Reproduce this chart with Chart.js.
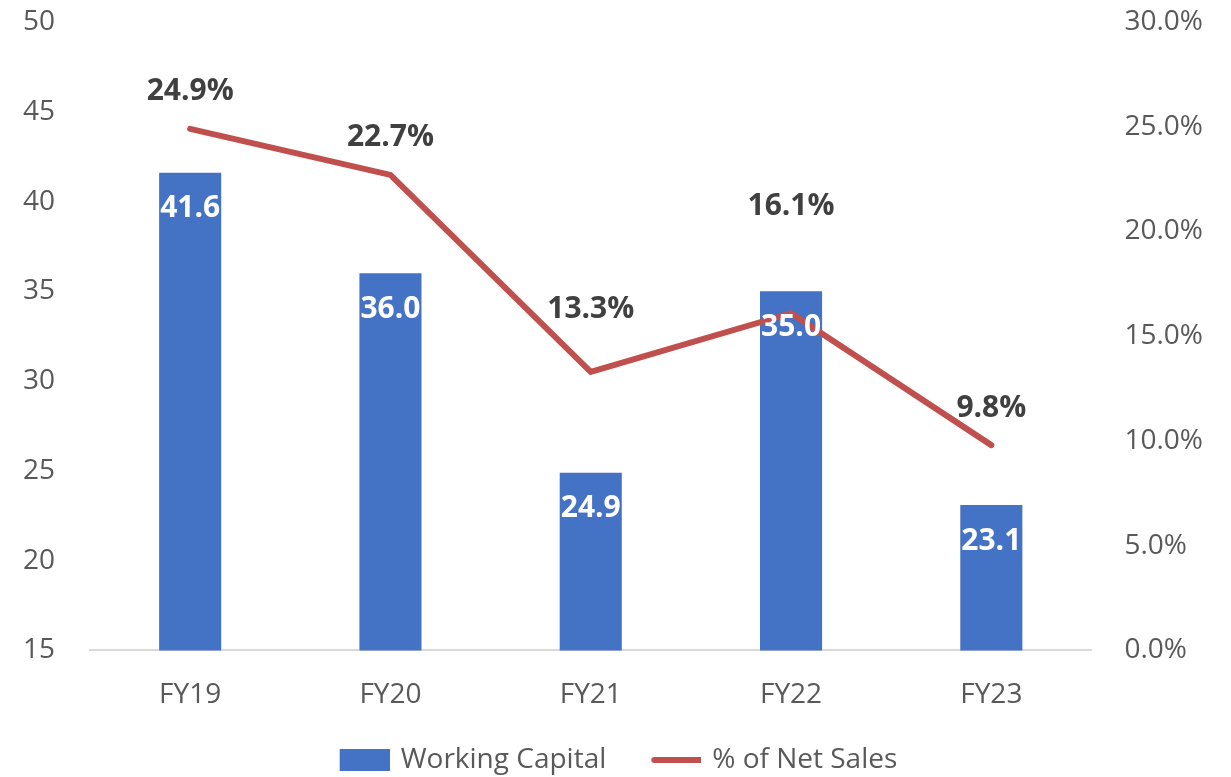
<!DOCTYPE html>
<html>
<head>
<meta charset="utf-8">
<script src="https://cdn.jsdelivr.net/npm/chart.js@4/dist/chart.umd.min.js"></script>
<style>
  html, body { margin: 0; padding: 0; background: #fff; }
  #wrap { width: 1231px; height: 777px; }
</style>
</head>
<body>
<div id="wrap"><canvas id="wcChart" width="1231" height="777"></canvas></div>
<script>
const years = ['FY19', 'FY20', 'FY21', 'FY22', 'FY23'];
const workingCapital = [41.6, 36.0, 24.9, 35.0, 23.1];
const pctOfNetSales = [24.9, 22.7, 13.3, 16.1, 9.8];
const leftTicks = [15, 50, 5];     // min, max, step
const rightTicks = [0, 30, 5];

const BAR_COLOR = '#4472C4';
const LINE_COLOR = '#C0504D';
const TEXT_COLOR = '#595959';
const LABEL_COLOR = '#404040';
const FONT = "'Open Sans', 'Noto Sans', sans-serif";

// the % labels sit higher on FY21 / FY22 in the original
const pctLabelLift = [37, 37, 62, 107, 37];

// legend swatches (64px wide, mark drawn on the right part)
function makeSwatch(draw) {
    const c = document.createElement('canvas');
    c.width = 64;
    c.height = 24;
    draw(c.getContext('2d'));
    return c;
}
const barSwatch = makeSwatch(ctx => {
    ctx.fillStyle = BAR_COLOR;
    ctx.fillRect(14, 1, 50, 22);
});
const lineSwatch = makeSwatch(ctx => {
    ctx.strokeStyle = LINE_COLOR;
    ctx.lineWidth = 6;
    ctx.lineCap = 'round';
    ctx.beginPath();
    ctx.moveTo(17, 12);
    ctx.lineTo(66, 12);
    ctx.stroke();
});

// Chart.js counts tick padding twice and also pads above/below the value axes
function trimValueAxis(scale) {
    scale.width -= scale.options.ticks.padding;
    scale.paddingTop = 22;
    scale.paddingBottom = 22;
}

const valueLabels = {
    id: 'valueLabels',
    afterDatasetsDraw(chart) {
        const ctx = chart.ctx;
        ctx.save();
        ctx.font = `bold 30px ${FONT}`;
        ctx.textAlign = 'center';
        ctx.textBaseline = 'middle';

        chart.getDatasetMeta(0).data.forEach((bar, i) => {
            ctx.fillStyle = '#ffffff';
            ctx.fillText(workingCapital[i].toFixed(1), bar.x, bar.y + 36);
        });

        chart.getDatasetMeta(1).data.forEach((pt, i) => {
            ctx.fillStyle = LABEL_COLOR;
            ctx.fillText(pctOfNetSales[i].toFixed(1) + '%', pt.x, pt.y - pctLabelLift[i]);
        });
        ctx.restore();
    }
};

const ctx = document.getElementById('wcChart').getContext('2d');
new Chart(ctx, {
    data: {
        labels: years,
        datasets: [
            {
                type: 'bar',
                label: 'Working Capital',
                data: workingCapital,
                backgroundColor: BAR_COLOR,
                yAxisID: 'y',
                categoryPercentage: 1.0,
                barPercentage: 0.31,
                order: 1
            },
            {
                type: 'line',
                label: '% of Net Sales',
                data: pctOfNetSales,
                borderColor: LINE_COLOR,
                backgroundColor: LINE_COLOR,
                borderWidth: 6,
                borderCapStyle: 'round',
                pointRadius: 0,
                tension: 0,
                yAxisID: 'y1',
                order: 0
            }
        ]
    },
    options: {
        responsive: false,
        animation: false,
        layout: { padding: { left: 23, right: 28, top: 0, bottom: -7 } },
        plugins: {
            tooltip: { enabled: false },
            legend: {
                position: 'bottom',
                labels: {
                    usePointStyle: true,
                    pointStyleWidth: 58,
                    padding: 34,
                    color: TEXT_COLOR,
                    font: { family: FONT, size: 28 },
                    generateLabels(chart) {
                        const items = Chart.defaults.plugins.legend.labels.generateLabels(chart);
                        items.sort((a, b) => a.datasetIndex - b.datasetIndex);
                        items.forEach(item => {
                            item.pointStyle = item.datasetIndex === 0 ? barSwatch : lineSwatch;
                        });
                        return items;
                    }
                }
            }
        },
        scales: {
            x: {
                grid: { display: false, drawTicks: false },
                border: { display: true, color: '#d9d9d9', width: 2 },
                ticks: { color: TEXT_COLOR, font: { family: FONT, size: 28 }, padding: 28 },
                afterFit(scale) {
                    scale.height -= scale.options.ticks.padding;
                    scale.paddingLeft = 0;
                    scale.paddingRight = 0;
                }
            },
            y: {
                position: 'left',
                min: leftTicks[0],
                max: leftTicks[1],
                grid: { display: false, drawTicks: false },
                border: { display: false },
                ticks: { stepSize: leftTicks[2], color: TEXT_COLOR, font: { family: FONT, size: 28 }, padding: 35 },
                afterFit: trimValueAxis
            },
            y1: {
                position: 'right',
                min: rightTicks[0],
                max: rightTicks[1],
                grid: { display: false, drawTicks: false },
                border: { display: false },
                ticks: {
                    stepSize: rightTicks[2],
                    color: TEXT_COLOR,
                    font: { family: FONT, size: 28 },
                    padding: 33,
                    callback: v => v.toFixed(1) + '%'
                },
                afterFit: trimValueAxis
            }
        }
    },
    plugins: [valueLabels]
});
</script>
</body>
</html>
